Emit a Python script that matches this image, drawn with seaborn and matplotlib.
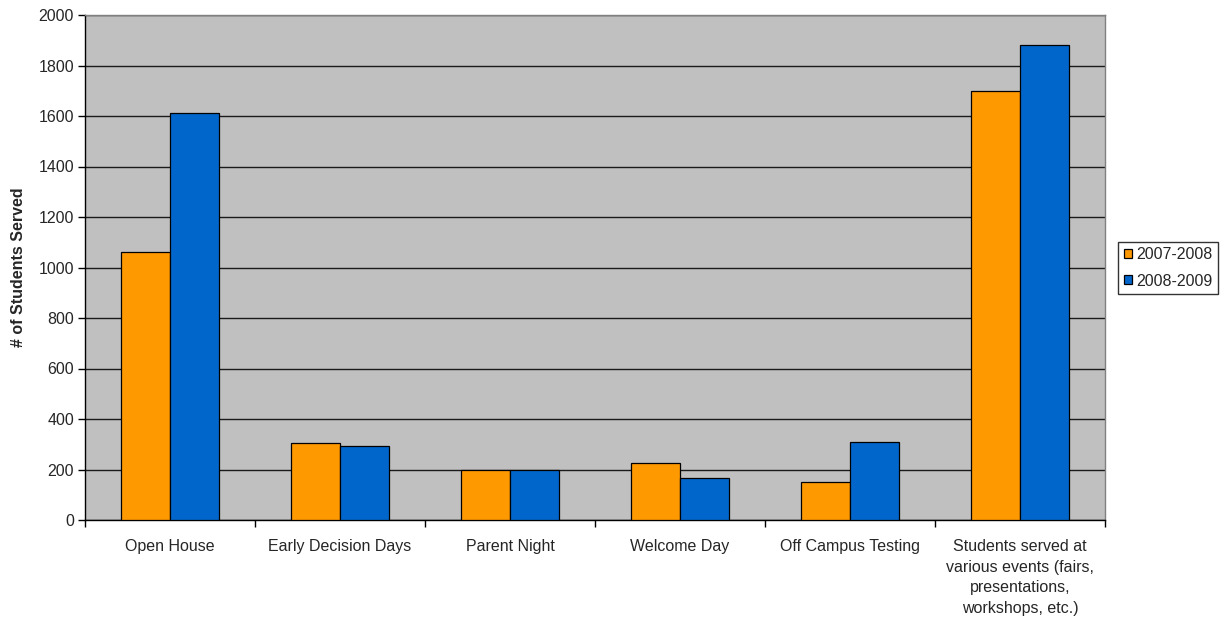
import matplotlib
matplotlib.use("Agg")
import matplotlib.pyplot as plt
from matplotlib.patches import Patch
from matplotlib.ticker import FixedLocator
import seaborn as sns
import pandas as pd

categories = [
    "Open House",
    "Early Decision Days",
    "Parent Night",
    "Welcome Day",
    "Off Campus Testing",
    "Students served at\nvarious events (fairs,\npresentations,\nworkshops, etc.)",
]
series_names = ["2007-2008", "2008-2009"]
values_2007 = [1060, 305, 200, 225, 150, 1700]
values_2008 = [1610, 295, 200, 165, 310, 1880]
colors = ["#FF9900", "#0066CC"]
y_ticks = [0, 200, 400, 600, 800, 1000, 1200, 1400, 1600, 1800, 2000]

df = pd.DataFrame({
    "category": categories * 2,
    "series": [series_names[0]] * len(categories) + [series_names[1]] * len(categories),
    "value": values_2007 + values_2008,
})

sns.set_theme(style="white")
plt.rcParams["font.family"] = ["Liberation Sans", "DejaVu Sans"]

FS = 11.5

fig = plt.figure(figsize=(12.25, 6.2), dpi=100)
ax = fig.add_axes([85 / 1225, 100 / 620, 1020 / 1225, 505 / 620])
ax.set_facecolor("#C0C0C0")

sns.barplot(data=df, x="category", y="value", hue="series", order=categories,
            hue_order=series_names, palette=colors, width=2 / 3.5, gap=0,
            edgecolor="black", linewidth=0.9, saturation=1, ax=ax, legend=False,
            zorder=3)

ax.set_xlim(-0.5, len(categories) - 0.5)
ax.set_ylim(0, 2000)
ax.yaxis.set_major_locator(FixedLocator(y_ticks))
ax.yaxis.grid(True, color="#1a1a1a", linewidth=1.0, zorder=1)
ax.set_axisbelow(True)
ax.xaxis.grid(False)

for side in ["top", "right"]:
    ax.spines[side].set_color("#808080")
    ax.spines[side].set_linewidth(1.0)
for side in ["left", "bottom"]:
    ax.spines[side].set_color("black")
    ax.spines[side].set_linewidth(1.0)

ax.tick_params(axis="y", which="major", direction="out", length=5, width=1,
               color="black", labelsize=FS, pad=3, left=True)
ax.tick_params(axis="x", which="major", length=0, labelsize=FS, pad=14)
ax.xaxis.set_minor_locator(FixedLocator([i - 0.5 for i in range(len(categories) + 1)]))
ax.tick_params(axis="x", which="minor", direction="out", length=5, width=1,
               color="black", bottom=True)
ax.set_xticks(range(len(categories)))
ax.set_xticklabels(categories, ha="center", linespacing=1.45)
ax.set_xlabel("")
ax.set_ylabel("# of Students Served", fontsize=FS, fontweight="bold", labelpad=9)

handles = [Patch(facecolor=c, edgecolor="black", linewidth=0.9) for c in colors]
leg = fig.legend(handles, series_names, loc="center left",
                 bbox_to_anchor=(1118 / 1225, 1 - 268 / 620), fontsize=FS,
                 frameon=True, fancybox=False, edgecolor="black",
                 handlelength=0.5, handleheight=0.5, handletextpad=0.3,
                 borderpad=0.35, labelspacing=0.7, borderaxespad=0)
leg.get_frame().set_linewidth(1.0)

fig.savefig("out.png", dpi=100, facecolor="white")
